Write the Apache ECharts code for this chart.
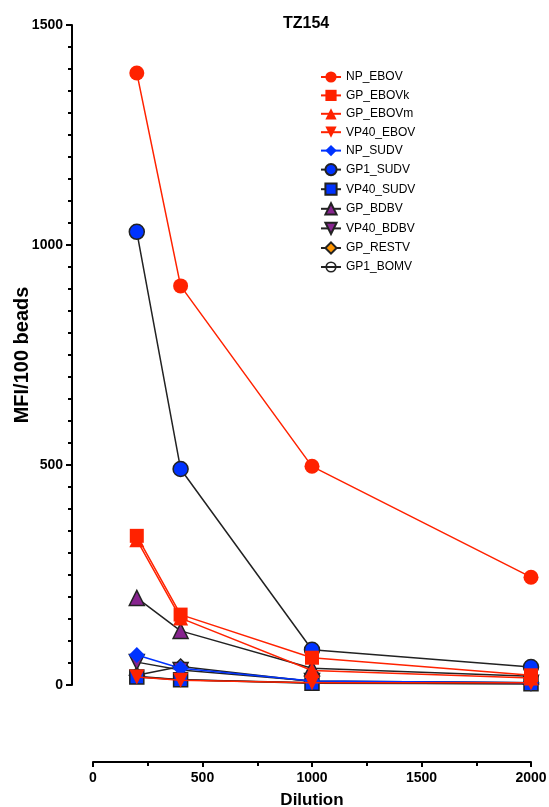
<!DOCTYPE html>
<html>
<head>
<meta charset="utf-8">
<script src="https://cdn.jsdelivr.net/npm/echarts@6/dist/echarts.min.js"></script>
<style>
    html, body { margin: 0; padding: 0; background: #fff; }
    #chart { width: 549px; height: 807px; }
</style>
</head>
<body>
<div id="chart"></div>
<script>
// dilution values on the x axis
let dilutions = [200, 400, 1000, 2000];

// MFI/100 beads per antigen
let npEbov = [1391, 907, 497, 245];
let gpEbovk = [339, 160, 62, 22];
let gpEbovm = [330, 152, 33, 16];
let vp40Ebov = [18, 11, 5, 5];
let npSudv = [68, 38, 9, 5];
let gp1Sudv = [1030, 491, 80, 41];
let vp40Sudv = [18, 12, 4, 3];
let gpBdbv = [198, 123, 38, 20];
let vp40Bdbv = [52, 34, 9, 5];
let gpRestv = [22, 42, 8, 5];
let gp1Bomv = [20, 12, 5, 3];

const RED = "#ff2200";
const BLUE = "#0033ff";
const PURPLE = "#87248f";
const ORANGE = "#ff9500";
const BLACK = "#222222";

const bomvPath = "path://M0,-10 A10,10 0 1,1 0,10 A10,10 0 1,1 0,-10 Z M0,-7 A7,7 0 1,0 0,7 A7,7 0 1,0 0,-7 Z M-7,-2 L7,-2 L7,2 L-7,2 Z";
const downTri = "path://M-10,-8 L10,-8 L0,10 Z";

function makeSeries(name, values, symbol, fill, border, line, size, idx) {
    return {
        name: name,
        type: "line",
        data: dilutions.map((d, i) => [d, values[i]]),
        symbol: symbol,
        symbolSize: size,
        z: 30 - idx,
        itemStyle: {
            color: fill,
            borderColor: border,
            borderWidth: border === fill ? 0 : 1.5,
            opacity: 1
        },
        lineStyle: { color: line, width: 1.5 },
        emphasis: { disabled: true },
        animation: false
    };
}

let seriesList = [
    makeSeries("NP_EBOV", npEbov, "circle", RED, RED, RED, 15, 0),
    makeSeries("GP_EBOVk", gpEbovk, "rect", RED, RED, RED, 14, 1),
    makeSeries("GP_EBOVm", gpEbovm, "triangle", RED, RED, RED, 15, 2),
    makeSeries("VP40_EBOV", vp40Ebov, downTri, RED, RED, RED, 15, 3),
    makeSeries("NP_SUDV", npSudv, "diamond", BLUE, BLUE, BLUE, 16, 4),
    makeSeries("GP1_SUDV", gp1Sudv, "circle", BLUE, BLACK, BLACK, 15, 5),
    makeSeries("VP40_SUDV", vp40Sudv, "rect", BLUE, BLACK, BLACK, 14, 6),
    makeSeries("GP_BDBV", gpBdbv, "triangle", PURPLE, BLACK, BLACK, 15, 7),
    makeSeries("VP40_BDBV", vp40Bdbv, downTri, PURPLE, BLACK, BLACK, 15, 8),
    makeSeries("GP_RESTV", gpRestv, "diamond", ORANGE, BLACK, BLACK, 15, 9),
    makeSeries("GP1_BOMV", gp1Bomv, bomvPath, BLACK, BLACK, BLACK, 13, 10)
];

let chart = echarts.init(document.getElementById("chart"), null, { renderer: "canvas" });
let font = "'Liberation Sans', Arial, Helvetica, sans-serif";

let option = {
    backgroundColor: "#ffffff",
    animation: false,
    title: {
        text: "TZ154",
        left: 278,
        top: 11,
        textStyle: { fontFamily: font, fontWeight: "bold", fontSize: 16, color: "#000" }
    },
    legend: {
        orient: "vertical",
        left: 315,
        top: 66,
        itemWidth: 20,
        itemHeight: 14,
        itemGap: 6.4,
        textStyle: { fontFamily: font, fontSize: 12, color: "#000" },
        data: seriesList.map(s => s.name)
    },
    grid: {
        left: 93,
        right: 18,
        top: 25,
        bottom: 122,
        containLabel: false,
        outerBoundsMode: "none"
    },
    xAxis: {
        type: "value",
        min: 0,
        max: 2000,
        interval: 500,
        offset: 77,
        name: "Dilution",
        nameLocation: "middle",
        nameGap: 30,
        nameMoveOverlap: false,
        nameTextStyle: { fontFamily: font, fontWeight: "bold", fontSize: 17, color: "#000" },
        axisLine: { show: true, onZero: false, lineStyle: { color: "#000", width: 2 } },
        axisTick: { show: true, length: 5, lineStyle: { color: "#000", width: 2 } },
        minorTick: { show: true, splitNumber: 2, length: 4, lineStyle: { color: "#000", width: 2 } },
        axisLabel: {
            fontFamily: font, fontWeight: "bold", fontSize: 14, color: "#000", margin: 9,
            formatter: v => String(v)
        },
        splitLine: { show: false }
    },
    yAxis: {
        type: "value",
        min: 0,
        max: 1500,
        interval: 500,
        offset: 21,
        name: "MFI/100 beads",
        nameLocation: "middle",
        nameGap: 40,
        nameMoveOverlap: false,
        nameTextStyle: { fontFamily: font, fontWeight: "bold", fontSize: 20, color: "#000" },
        axisLine: { show: true, onZero: false, lineStyle: { color: "#000", width: 2 } },
        axisTick: { show: true, length: 6, lineStyle: { color: "#000", width: 2 } },
        minorTick: { show: true, splitNumber: 10, length: 4, lineStyle: { color: "#000", width: 2 } },
        axisLabel: {
            fontFamily: font, fontWeight: "bold", fontSize: 14, color: "#000", margin: 9,
            formatter: v => String(v)
        },
        splitLine: { show: false }
    },
    series: seriesList
};

chart.setOption(option);
</script>
</body>
</html>
